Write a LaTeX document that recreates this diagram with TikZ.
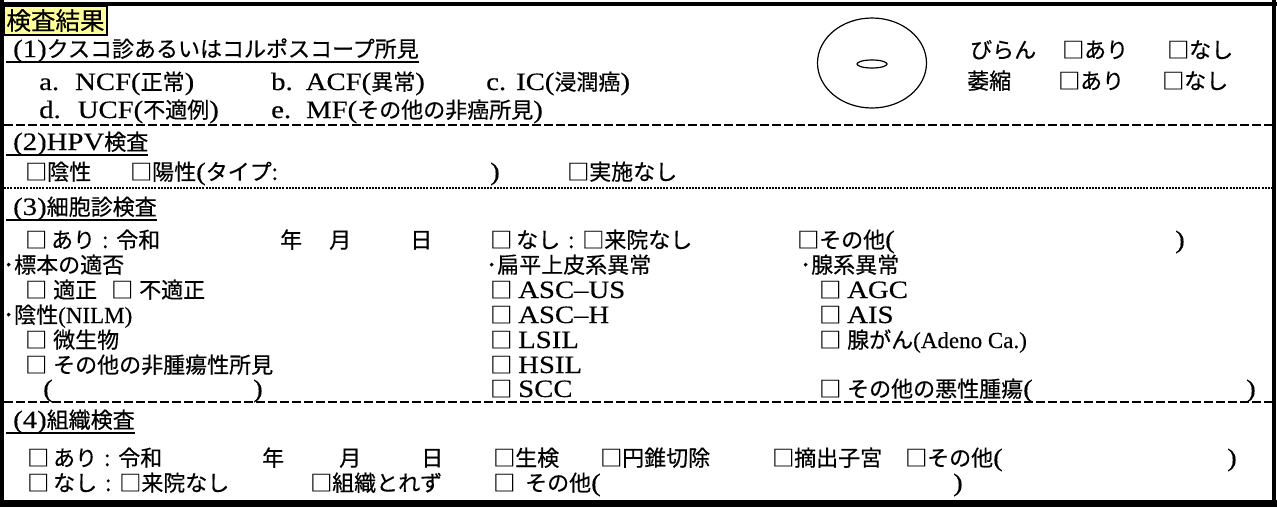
\documentclass[tikz,border=0pt]{standalone}
\usepackage{fontspec}
\usetikzlibrary{shapes.geometric}
\newfontfamily\jp[FakeBold=0.4]{Noto Sans CJK JP}
\newfontfamily\cent[FakeStretch=1.15,FakeBold=0.3]{Liberation Serif}
\newfontfamily\tms[FakeBold=0.2]{Liberation Serif}
\newcommand\Cen[1]{{\cent\fontsize{25}{28}\selectfont #1}}
\newcommand\Tim[1]{{\tms\fontsize{23}{26}\selectfont #1}}
\definecolor{hlyellow}{HTML}{FFFF99}
\begin{document}
\begin{tikzpicture}[x=1pt,y=-1pt,
  t/.style={inner sep=0pt, anchor=base west, font=\jp\fontsize{22}{26}\selectfont},
  secline/.style={line width=2.2pt, dash pattern=on 9pt off 3pt},
  dotline/.style={line width=1.8pt, dash pattern=on 2pt off 1.2pt},
  uline/.style={line width=1.3pt},
  frameline/.style={line width=4pt},
  ring/.style={draw, ellipse, line width=1.2pt, inner sep=0pt}]
\useasboundingbox (0,0) rectangle (1277,507);
\fill[white] (0,0) rectangle (1277,507);
% frame
\draw[frameline] (0,4) -- (1277,4);
\draw[frameline] (2,0) -- (2,507);
\draw[frameline] (1274,0) -- (1274,507);
\fill[black] (0,500) rectangle (1277,507);
% title
\node[draw=black, line width=1.5pt, fill=hlyellow, inner sep=0pt, minimum width=103pt, minimum height=29pt,
  font=\jp\fontsize{24.5}{26}\selectfont] (title) at (55.5,20.5) {検査結果};
% section 1
\node[t] (h1) at (13,57) {\Cen{(1)}クスコ診あるいはコルポスコープ所見};
\draw[uline] (6,62) -- ([yshift=-5pt]h1.base east);
\node[t] (ia) at (39,90) {\Cen{a.}\hspace{16pt}\Cen{NCF(}正常\Cen{)}};
\node[t] (ib) at (271,90) {\Cen{b.}\hspace{13pt}\Cen{ACF(}異常\Cen{)}};
\node[t] (ic) at (486,90) {\Cen{c.}\hspace{10pt}\Cen{IC(}浸潤癌\Cen{)}};
\node[t] (id) at (39,118) {\Cen{d.}\hspace{17pt}\Cen{UCF(}不適例\Cen{)}};
\node[t] (ie) at (271,118) {\Cen{e.}\hspace{15pt}\Cen{MF(}その他の非癌所見\Cen{)}};
\node[ring, minimum width=109pt, minimum height=90pt] (cervix) at (872,63) {};
\node[ring, minimum width=30pt, minimum height=8pt] (os) at (872,64) {};
\node[t] (biran) at (970,58) {びらん};
\node[t] (biranY) at (1062,58) {□あり};
\node[t] (biranN) at (1167,58) {□なし};
\node[t] (ishuku) at (967,89) {萎縮};
\node[t] (ishukuY) at (1058,89) {□あり};
\node[t] (ishukuN) at (1162,89) {□なし};
\draw[secline] (4,125) -- (1272,125);
% section 2
\node[t] (h2) at (13,150) {\Cen{(2)HPV}検査};
\draw[uline] (6,155) -- ([yshift=-5pt]h2.base east);
\node[t] (neg) at (25,180) {□陰性};
\node[t] (pos) at (130,180) {□陽性\Cen{(}タイプ:};
\node[t] (posR) at (490,180) {\Cen{)}};
\node[t] (notdone) at (567,180) {□実施なし};
\draw[dotline] (4,188) -- (1272,188);
% section 3
\node[t] (h3) at (13,215) {\Cen{(3)}細胞診検査};
\draw[uline] (6,220) -- ([yshift=-5pt]h3.base east);
\node[t] (cyY) at (25,248) {□\hspace{4pt}あり\hspace{7pt}:\hspace{8pt}令和};
\node[t] (cyYear) at (280,248) {年};
\node[t] (cyMonth) at (329,248) {月};
\node[t] (cyDay) at (410,248) {日};
\node[t] (cyN) at (490,248) {□\hspace{4pt}なし\hspace{8pt}:\hspace{8pt}□来院なし};
\node[t] (cyO) at (797,248) {□その他\Cen{(}};
\node[t] (cyOR) at (1175,248) {\Cen{)}};
\node[t] (spec) at (3,273) {･標本の適否};
\node[t] (sq) at (486,273) {･扁平上皮系異常};
\node[t] (gl) at (800,273) {･腺系異常};
\node[t] (adeq) at (25,298) {□\hspace{6pt}適正\hspace{14pt}□\hspace{6pt}不適正};
\node[t] (ascus) at (490,298) {□\hspace{6pt}\Cen{ASC–US}};
\node[t] (agc) at (819,298) {□\hspace{6pt}\Cen{AGC}};
\node[t] (nilm) at (3,323) {･陰性\Tim{(NILM)}};
\node[t] (asch) at (490,323) {□\hspace{6pt}\Cen{ASC–H}};
\node[t] (ais) at (819,323) {□\hspace{6pt}\Cen{AIS}};
\node[t] (micro) at (25,348) {□\hspace{6pt}微生物};
\node[t] (lsil) at (490,348) {□\hspace{6pt}\Cen{LSIL}};
\node[t] (adeno) at (819,348) {□\hspace{6pt}腺がん\Tim{(Adeno Ca.)}};
\node[t] (nonneo) at (25,373) {□\hspace{6pt}その他の非腫瘍性所見};
\node[t] (hsil) at (490,373) {□\hspace{6pt}\Cen{HSIL}};
\node[t] (nonneoL) at (43,397) {\Cen{(}};
\node[t] (nonneoR) at (253,397) {\Cen{)}};
\node[t] (scc) at (490,397) {□\hspace{6pt}\Cen{SCC}};
\node[t] (malig) at (819,397) {□\hspace{6pt}その他の悪性腫瘍\Cen{(}};
\node[t] (maligR) at (1246,397) {\Cen{)}};
\draw[secline] (4,402) -- (1272,402);
% section 4
\node[t] (h4) at (13,428) {\Cen{(4)}組織検査};
\draw[uline] (6,433) -- ([yshift=-5pt]h4.base east);
\node[t] (hiY) at (27,466) {□\hspace{4pt}あり\hspace{7pt}:\hspace{8pt}令和};
\node[t] (hiYear) at (262,466) {年};
\node[t] (hiMonth) at (339,466) {月};
\node[t] (hiDay) at (421,466) {日};
\node[t] (biopsy) at (493,466) {□生検};
\node[t] (cone) at (600,466) {□円錐切除};
\node[t] (hyst) at (772,466) {□摘出子宮};
\node[t] (hiO) at (905,466) {□その他\Cen{(}};
\node[t] (hiOR) at (1227,466) {\Cen{)}};
\node[t] (hiN) at (27,491) {□\hspace{4pt}なし\hspace{8pt}:\hspace{8pt}□来院なし};
\node[t] (notissue) at (310,491) {□組織とれず};
\node[t] (hiN2) at (493,491) {□\hspace{10pt}その他\Cen{(}};
\node[t] (hiN2R) at (953,491) {\Cen{)}};
\end{tikzpicture}
\end{document}
